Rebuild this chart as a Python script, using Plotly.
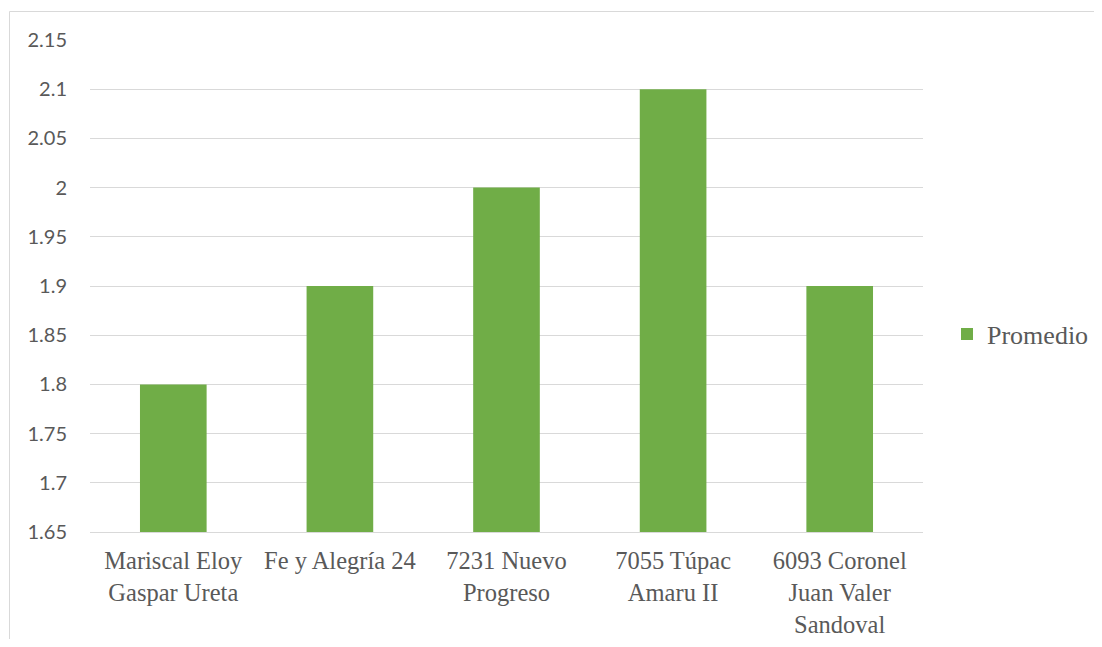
import plotly.graph_objects as go

categories = [
    "Mariscal Eloy<br>Gaspar Ureta",
    "Fe y Alegría 24",
    "7231 Nuevo<br>Progreso",
    "7055 Túpac<br>Amaru II",
    "6093 Coronel<br>Juan Valer<br>Sandoval",
]
promedio = [1.8, 1.9, 2.0, 2.1, 1.9]
series_name = "Promedio"
y_ticks = [1.65, 1.7, 1.75, 1.8, 1.85, 1.9, 1.95, 2.0, 2.05, 2.1, 2.15]
y_tick_labels = ["1.65", "1.7", "1.75", "1.8", "1.85", "1.9", "1.95", "2", "2.05", "2.1", "2.15"]

# page has an 8px body margin, so the figure is sized to fit inside it
W, H = 1086, 631
L, T = 82, 32
pw, ph = 833, 492
R, B = W - L - pw, H - T - ph

fig = go.Figure()
fig.add_trace(go.Bar(
    x=categories, y=promedio, name=series_name,
    marker=dict(color="#70AD47", line=dict(width=0)),
    showlegend=True,
))

fig.update_layout(
    width=W, height=H,
    margin=dict(l=L, r=R, t=T, b=B, autoexpand=False),
    paper_bgcolor="white", plot_bgcolor="white",
    bargap=0.6,
    showlegend=True,
    legend=dict(
        x=(939 - L) / pw, y=1 - (326 - T) / ph, xanchor="left", yanchor="middle",
        font=dict(family="Liberation Serif", size=26, color="#595959"),
        bgcolor="rgba(0,0,0,0)",
    ),
    xaxis=dict(
        showgrid=False, zeroline=False, showline=True, linecolor="#D9D9D9", linewidth=1,
        ticks="", ticklabelstandoff=7,
        tickfont=dict(family="Liberation Serif", size=24.5, color="#595959"),
        tickangle=0, automargin=False,
    ),
    yaxis=dict(
        range=[1.65, 2.15], tickvals=y_ticks, ticktext=y_tick_labels,
        showgrid=True, gridcolor="#D9D9D9", gridwidth=1, zeroline=False,
        showline=False, ticks="", ticklabelstandoff=22,
        tickfont=dict(family="Lato", size=20, color="#595959"),
        automargin=False,
    ),
    shapes=[
        dict(type="line", xref="paper", yref="paper",
             x0=(1.5 - L) / pw, x1=(W + 10 - L) / pw,
             y0=1 + (T - 3.5) / ph, y1=1 + (T - 3.5) / ph,
             line=dict(color="#D9D9D9", width=1)),
        dict(type="line", xref="paper", yref="paper",
             x0=(1.5 - L) / pw, x1=(1.5 - L) / pw,
             y0=1 + (T - 3.5) / ph, y1=-(H + 10 - T - ph) / ph,
             line=dict(color="#D9D9D9", width=1)),
    ],
)

fig.write_html("out.html")
